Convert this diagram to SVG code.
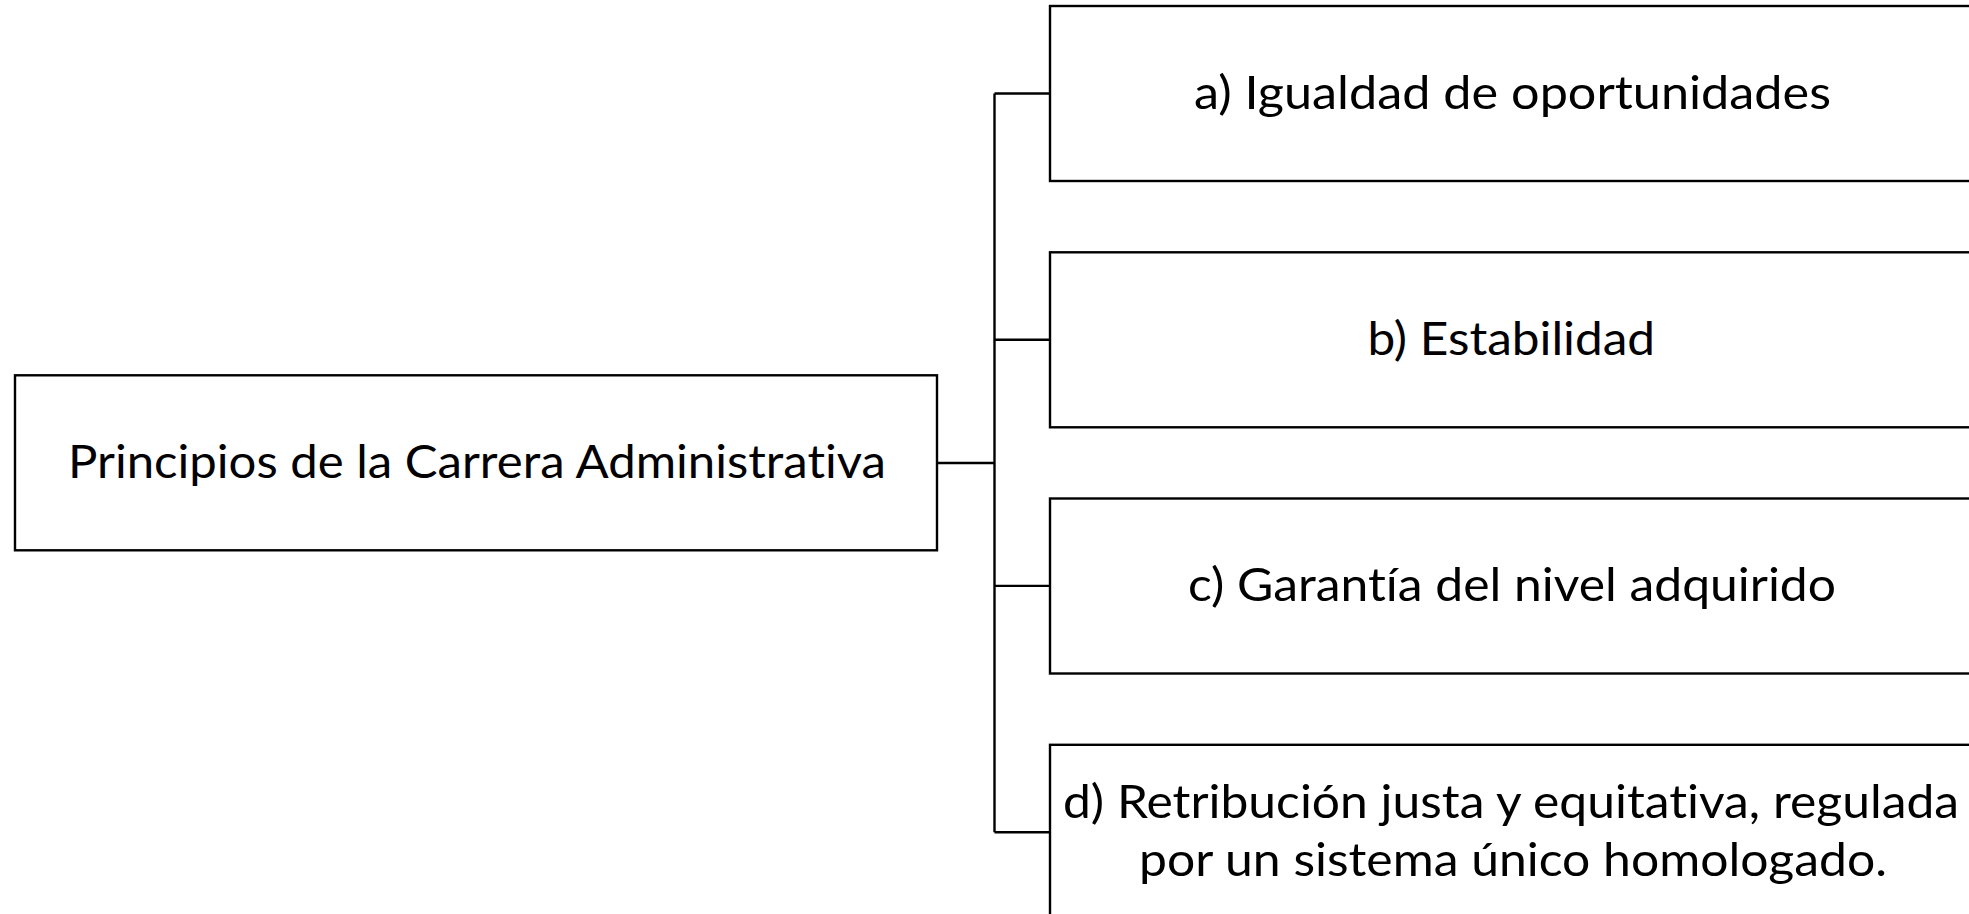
<svg xmlns="http://www.w3.org/2000/svg" width="1969" height="914" viewBox="0 0 1969 914">
<style>
.box{fill:#ffffff;stroke:#000000;stroke-width:2.4}
.conn{fill:none;stroke:#000000;stroke-width:2.4}
.lbl{font-family:Lato,"Open Sans","Liberation Sans",sans-serif;font-size:46.5px;fill:#000000;text-anchor:middle;font-variant-ligatures:none;font-feature-settings:"liga" 0,"dlig" 0,"clig" 0}
</style>
<rect width="1969" height="914" fill="#ffffff"/>
<g id="connectors">
<path class="conn" d="M937,463 H994.5 M994.5,93.5 V832.3 M994.5,93.5 H1050 M994.5,339.7 H1050 M994.5,585.9 H1050 M994.5,832.3 H1050"/>
</g>
<g id="root">
<rect class="box" x="15" y="375.3" width="922" height="175"/>
<text class="lbl" x="477" y="478.3" textLength="818" lengthAdjust="spacingAndGlyphs">Principios de la Carrera Administrativa</text>
</g>
<g id="node-a">
<rect class="box" x="1050" y="6" width="924" height="175"/>
<text class="lbl" x="1512.5" y="108.5" textLength="637" lengthAdjust="spacingAndGlyphs">a) Igualdad de oportunidades</text>
</g>
<g id="node-b">
<rect class="box" x="1050" y="252.3" width="924" height="175"/>
<text class="lbl" x="1511.3" y="354.8" textLength="287.5" lengthAdjust="spacingAndGlyphs">b) Estabilidad</text>
</g>
<g id="node-c">
<rect class="box" x="1050" y="498.5" width="924" height="175"/>
<text class="lbl" x="1512" y="601" textLength="648" lengthAdjust="spacingAndGlyphs">c) Garantía del nivel adquirido</text>
</g>
<g id="node-d">
<rect class="box" x="1050" y="744.8" width="924" height="175"/>
<text class="lbl" x="1511" y="818.3" textLength="896" lengthAdjust="spacingAndGlyphs">d) Retribución justa y equitativa, regulada</text>
<text class="lbl" x="1513" y="875.7" textLength="748" lengthAdjust="spacingAndGlyphs">por un sistema único homologado.</text>
</g>
</svg>
